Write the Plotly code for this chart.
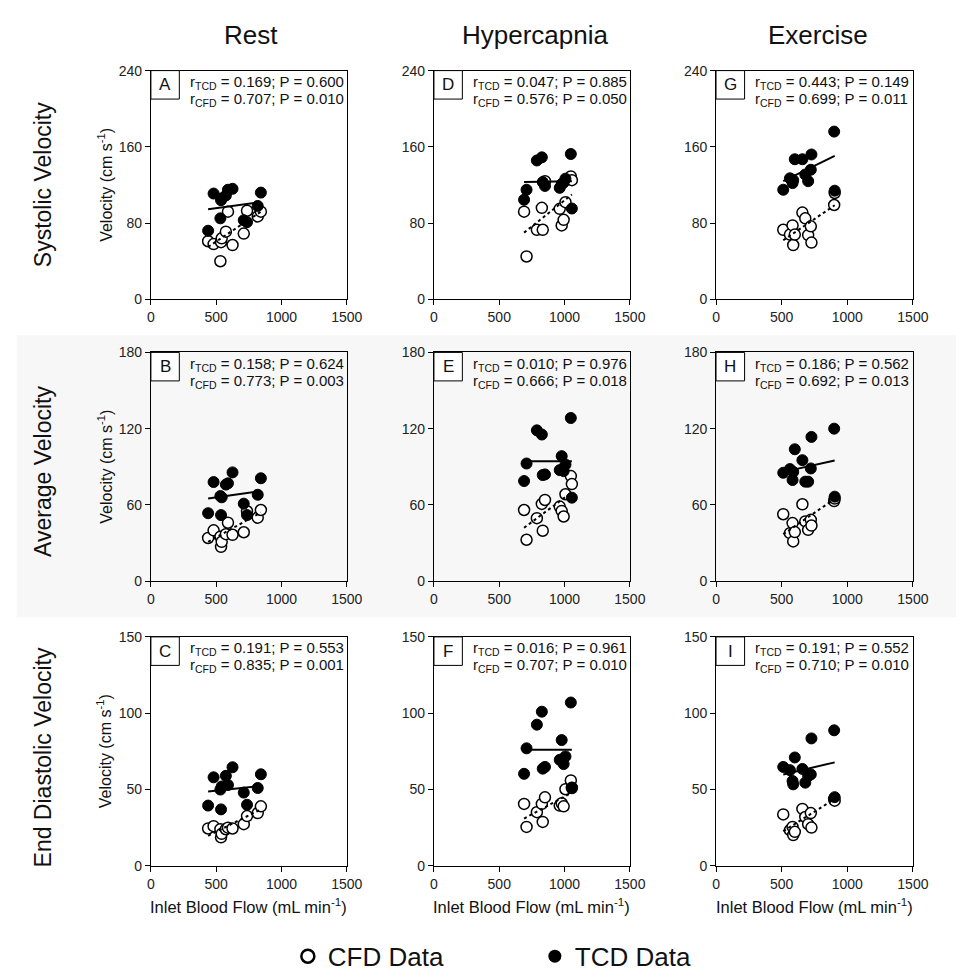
import plotly.graph_objects as go

# ---------------- data ----------------
conditions = ["Rest", "Hypercapnia", "Exercise"]
measures = ["Systolic Velocity", "Average Velocity", "End Diastolic Velocity"]
panel_letters = [["A", "D", "G"], ["B", "E", "H"], ["C", "F", "I"]]

rest_flow = [438, 480, 532, 537, 542, 574, 590, 625, 711, 736, 818, 842]
hyper_flow = [690, 709, 788, 826, 833, 850, 963, 978, 993, 1007, 1048, 1056]
exercise_flow = [512, 563, 583, 588, 600, 658, 680, 702, 722, 727, 900, 904]

sys_rest_tcd = [72, 111, 85, 104, 106, 109, 115, 116, 83, 81, 98, 112]
sys_rest_cfd = [61, 58, 40, 60, 64, 71, 92, 57, 69, 93, 87, 92]
avg_rest_tcd = [53.5, 78, 67, 52, 66, 76, 77, 85.6, 61, 52, 68, 81]
avg_rest_cfd = [34, 40, 35, 27, 31, 37, 46, 36.5, 38.5, 55, 50, 56]
edv_rest_tcd = [39.5, 58, 50, 37, 52, 59, 53, 64.6, 48, 40, 51, 60]
edv_rest_cfd = [24.5, 26, 24, 18.7, 21, 24, 25, 24.5, 27.3, 32.6, 34.6, 39]

sys_hyper_tcd = [104.5, 115, 145.7, 149, 123, 119, 117, 121, 122.5, 126.6, 152.5, 95.3]
sys_hyper_cfd = [92, 45, 73, 96, 73, 124, 95, 77.6, 83.4, 102, 129, 125]
avg_hyper_tcd = [78.8, 92.6, 118.7, 115.4, 83.5, 84, 87.4, 98.4, 86.6, 91.8, 128.4, 65.7]
avg_hyper_cfd = [56, 32.6, 49.6, 60.8, 39.7, 63.9, 58.7, 55.3, 50.9, 68.4, 82.7, 76.4]
edv_hyper_tcd = [60.3, 77, 92.5, 101, 63.7, 64.8, 69.5, 82.4, 66.7, 71.7, 107, 51.3]
edv_hyper_cfd = [40.6, 25.5, 35.2, 40.6, 28.8, 44.9, 39.5, 41, 39, 50.2, 56, 51]

sys_ex_tcd = [115, 127, 122, 125, 147, 147, 131, 124, 136, 152, 176, 114]
sys_ex_cfd = [73, 68, 77.6, 57, 68, 91, 85, 67.4, 76.6, 59.6, 99, 111.6]
avg_ex_tcd = [85.3, 88.2, 79.6, 86, 103.8, 95.2, 78.3, 78.3, 88.7, 113.5, 120, 66.5]
avg_ex_cfd = [52.7, 37.8, 45.7, 31.3, 38.6, 60.5, 47, 40.4, 48.3, 43.8, 63, 65]
edv_ex_tcd = [64.8, 62.7, 55.6, 53.4, 71, 63.5, 54.5, 58.8, 59.9, 83.5, 88.8, 45]
edv_ex_cfd = [33.7, 23.4, 25.5, 20.2, 22.3, 37.3, 32, 27.3, 34.6, 25.1, 43.8, 42.7]

# regression line values at min and max flow: [tcd_start, tcd_end, cfd_start, cfd_end]
fit_sys_rest = [94.6, 102, 55, 92]
fit_avg_rest = [65, 71, 31, 54]
fit_edv_rest = [48.7, 52.4, 19.7, 37]
fit_sys_hyper = [123, 124, 70, 110]
fit_avg_hyper = [94.4, 94.4, 42, 70]
fit_edv_hyper = [76, 76, 31, 48]
fit_sys_ex = [124, 150.5, 62, 98.7]
fit_avg_ex = [86, 95, 37, 64.7]
fit_edv_ex = [59.9, 67.8, 22.7, 43.8]

# stats: (r_TCD, P_TCD, r_CFD, P_CFD)
stats_sys = [("0.169", "0.600", "0.707", "0.010"), ("0.047", "0.885", "0.576", "0.050"), ("0.443", "0.149", "0.699", "0.011")]
stats_avg = [("0.158", "0.624", "0.773", "0.003"), ("0.010", "0.976", "0.666", "0.018"), ("0.186", "0.562", "0.692", "0.013")]
stats_edv = [("0.191", "0.553", "0.835", "0.001"), ("0.016", "0.961", "0.707", "0.010"), ("0.191", "0.552", "0.710", "0.010")]

y_max = [240, 180, 150]
y_dtick = [80, 60, 50]
x_ticks = [0, 500, 1000, 1500]

flows = [rest_flow, hyper_flow, exercise_flow]
tcd = [[sys_rest_tcd, sys_hyper_tcd, sys_ex_tcd],
       [avg_rest_tcd, avg_hyper_tcd, avg_ex_tcd],
       [edv_rest_tcd, edv_hyper_tcd, edv_ex_tcd]]
cfd = [[sys_rest_cfd, sys_hyper_cfd, sys_ex_cfd],
       [avg_rest_cfd, avg_hyper_cfd, avg_ex_cfd],
       [edv_rest_cfd, edv_hyper_cfd, edv_ex_cfd]]
fits = [[fit_sys_rest, fit_sys_hyper, fit_sys_ex],
        [fit_avg_rest, fit_avg_hyper, fit_avg_ex],
        [fit_edv_rest, fit_edv_hyper, fit_edv_ex]]
stats = [stats_sys, stats_avg, stats_edv]

# ---------------- layout geometry (pixels) ----------------
W, H = 972, 980
col_px = [(150, 350), (439, 639), (727, 928)]
row_px = [(63.7, 296.5), (350.5, 583.3), (640, 873)]
col_title_cx = [252, 543, 831]
row_title_dy = [0, 5, 6]
FONT = "Arial, Liberation Sans, sans-serif"

fig = go.Figure()
layout = dict(width=W, height=H, margin=dict(l=0, r=0, t=0, b=0),
              paper_bgcolor="white", plot_bgcolor="rgba(0,0,0,0)",
              font=dict(family=FONT, color="#111"), showlegend=True)
shapes = []
annotations = []

shapes.append(dict(type="rect", xref="paper", yref="paper", x0=13 / W, x1=1,
                   y0=1 - 620 / H, y1=1 - 333 / H, fillcolor="#f7f7f7",
                   line=dict(width=0), layer="below"))

for r in range(3):
    for c in range(3):
        idx = c * 3 + r + 1
        xn = "x" if idx == 1 else f"x{idx}"
        yn = "y" if idx == 1 else f"y{idx}"
        xk = "xaxis" if idx == 1 else f"xaxis{idx}"
        yk = "yaxis" if idx == 1 else f"yaxis{idx}"
        x0, x1 = col_px[c]
        yt, yb = row_px[r]
        axcommon = dict(showline=True, mirror=True, linecolor="black", linewidth=1,
                        ticks="outside", ticklen=5, tickcolor="black", tickwidth=1,
                        showgrid=False, zeroline=False,
                        tickfont=dict(size=14, color="#222", family=FONT))
        layout[xk] = dict(domain=[x0 / W, x1 / W], anchor=yn, range=[0, 1500],
                          tickvals=x_ticks, **axcommon)
        layout[yk] = dict(domain=[1 - yb / H, 1 - yt / H], anchor=xn,
                          range=[0, y_max[r]], dtick=y_dtick[r], tick0=0, **axcommon)

        fl = flows[c]
        fmin, fmax = min(fl), max(fl)
        f = fits[r][c]
        fig.add_trace(go.Scatter(x=fl, y=cfd[r][c], mode="markers", xaxis=xn, yaxis=yn,
                                 marker=dict(symbol="circle", size=11, color="white",
                                             line=dict(color="black", width=1.5)),
                                 showlegend=False))
        fig.add_trace(go.Scatter(x=fl, y=tcd[r][c], mode="markers", xaxis=xn, yaxis=yn,
                                 marker=dict(symbol="circle", size=11, color="black",
                                             line=dict(color="black", width=1)),
                                 showlegend=False))
        fig.add_trace(go.Scatter(x=[fmin, fmax], y=[f[0], f[1]], mode="lines", xaxis=xn, yaxis=yn,
                                 line=dict(color="black", width=2), showlegend=False))
        fig.add_trace(go.Scatter(x=[fmin, fmax], y=[f[2], f[3]], mode="lines", xaxis=xn, yaxis=yn,
                                 line=dict(color="black", width=2, dash="dot"), showlegend=False))

        # letter box
        shapes.append(dict(type="rect", xref=f"{xn} domain", yref=f"{yn} domain",
                           x0=0, x1=0.145, y0=1 - 29 / 233, y1=1,
                           line=dict(color="black", width=1), fillcolor="white"))
        annotations.append(dict(xref=f"{xn} domain", yref=f"{yn} domain",
                                x=0.0725, y=1 - 14.5 / 233, text=panel_letters[r][c],
                                showarrow=False, xanchor="center", yanchor="middle",
                                font=dict(size=17, color="#111")))
        s = stats[r][c]
        annotations.append(dict(xref=f"{xn} domain", yref=f"{yn} domain",
                                x=0.19, y=0.948, xanchor="left", yanchor="middle",
                                text=f"r<sub>TCD</sub> = {s[0]}; P = {s[1]}",
                                showarrow=False, font=dict(size=15, color="#111")))
        annotations.append(dict(xref=f"{xn} domain", yref=f"{yn} domain",
                                x=0.19, y=0.873, xanchor="left", yanchor="middle",
                                text=f"r<sub>CFD</sub> = {s[2]}; P = {s[3]}",
                                showarrow=False, font=dict(size=15, color="#111")))

# column titles and x-axis titles
for c in range(3):
    cx = (col_px[c][0] + col_px[c][1]) / 2
    annotations.append(dict(xref="paper", yref="paper", x=col_title_cx[c] / W, y=1 - 27 / H,
                            text=conditions[c], showarrow=False, xanchor="center",
                            yanchor="middle", font=dict(size=26, color="#111")))
    annotations.append(dict(xref="paper", yref="paper", x=cx / W, y=1 - 914 / H,
                            text="Inlet Blood Flow (mL min<sup>-1</sup>)", showarrow=False,
                            xanchor="center", yanchor="middle", font=dict(size=16.5, color="#111")))

# row titles and y-axis labels
for r in range(3):
    cy = (row_px[r][0] + row_px[r][1]) / 2
    annotations.append(dict(xref="paper", yref="paper", x=40 / W, y=1 - (cy + row_title_dy[r]) / H,
                            text=measures[r], showarrow=False, textangle=-90,
                            xanchor="center", yanchor="middle", font=dict(size=23, color="#111")))
    annotations.append(dict(xref="paper", yref="paper", x=103 / W, y=1 - cy / H,
                            text="Velocity (cm s<sup>-1</sup>)", showarrow=False, textangle=-90,
                            xanchor="center", yanchor="middle", font=dict(size=16, color="#111")))

# legend entries
fig.add_trace(go.Scatter(x=[None], y=[None], mode="markers", name="CFD Data",
                         marker=dict(symbol="circle", size=13, color="white",
                                     line=dict(color="black", width=2.5))))
fig.add_trace(go.Scatter(x=[None], y=[None], mode="markers", name="TCD Data",
                         marker=dict(symbol="circle", size=13, color="black")))

layout["legend"] = dict(orientation="h", x=542 / W, xanchor="center", y=1 - 965 / H,
                        yanchor="middle", font=dict(size=26, color="#111"),
                        bgcolor="rgba(0,0,0,0)", entrywidth=202, entrywidthmode="pixels",
                        itemsizing="trace")
layout["shapes"] = shapes
layout["annotations"] = annotations
fig.update_layout(**layout)
fig.write_html("out.html")
